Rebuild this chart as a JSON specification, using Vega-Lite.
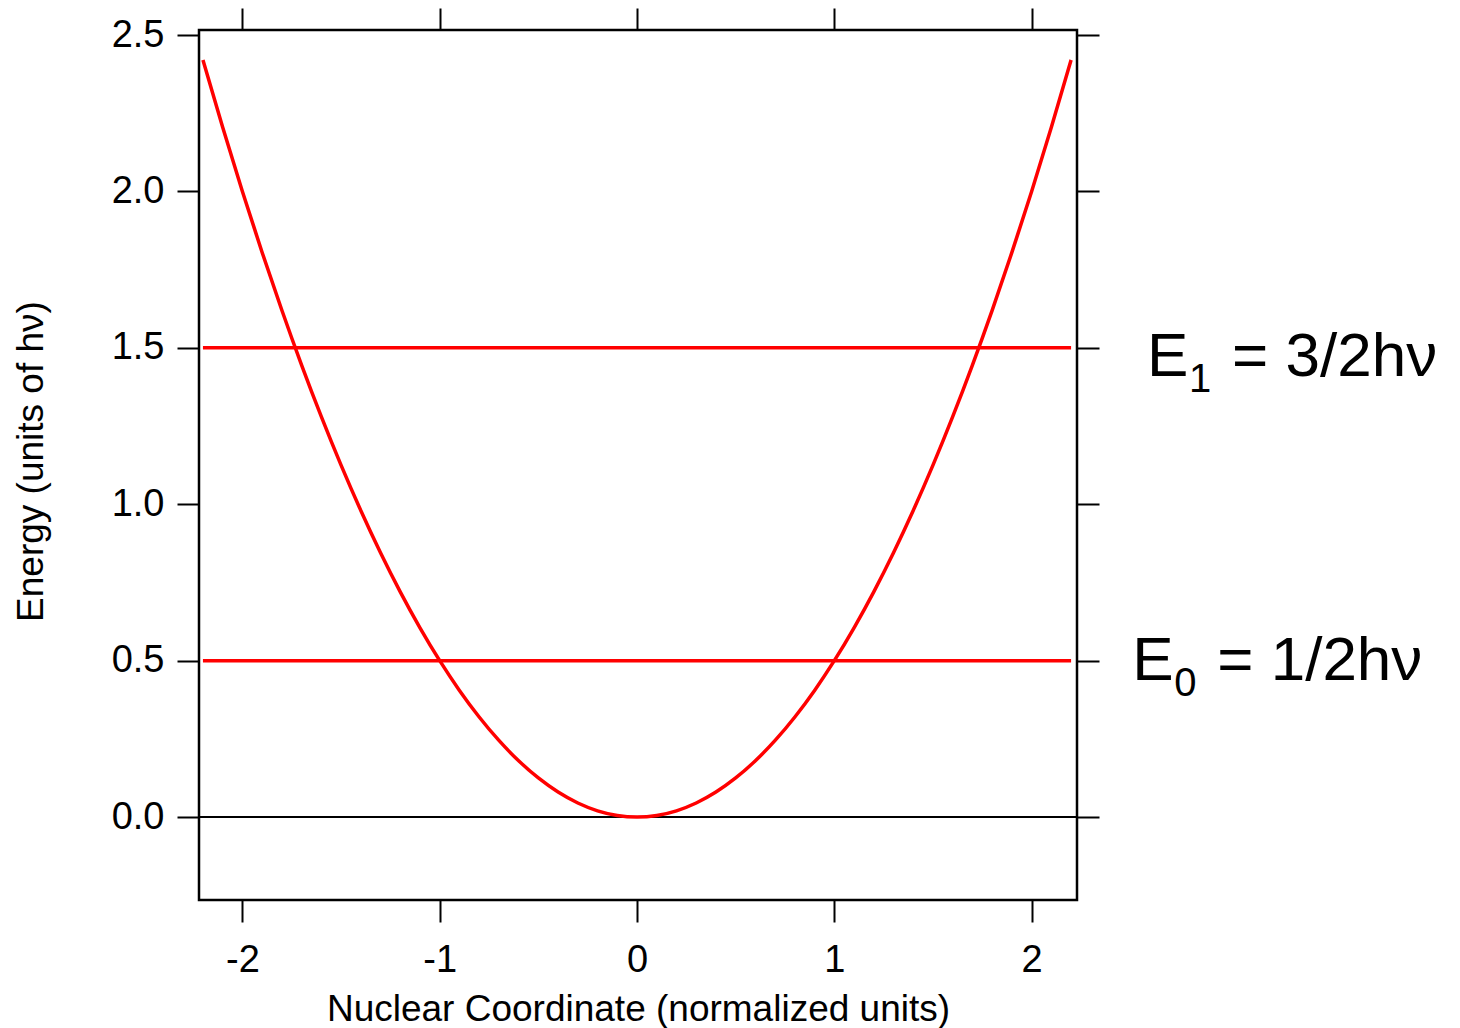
{
  "$schema": "https://vega.github.io/schema/vega-lite/v6.json",
  "width": 878,
  "height": 870,
  "autosize": "none",
  "padding": {"left": 199, "top": 30, "right": 383, "bottom": 128},
  "background": "white",
  "config": {
    "view": {"stroke": "black", "strokeWidth": 2.5},
    "axis": {
      "grid": false,
      "domain": false,
      "tickColor": "black",
      "tickWidth": 2,
      "tickSize": 22,
      "labelFont": "Liberation Sans",
      "labelFontSize": 38,
      "labelColor": "black",
      "titleFont": "Liberation Sans",
      "titleFontSize": 37,
      "titleFontWeight": "normal",
      "titleColor": "black"
    },
    "text": {"font": "Liberation Sans", "color": "black"}
  },
  "datasets": {
    "zero": [{"energy": 0}],
    "curve": [
      {"x": -2.2, "energy": 2.42}, {"x": -2.1, "energy": 2.205}, {"x": -2.0, "energy": 2.0},
      {"x": -1.9, "energy": 1.805}, {"x": -1.8, "energy": 1.62}, {"x": -1.7, "energy": 1.445},
      {"x": -1.6, "energy": 1.28}, {"x": -1.5, "energy": 1.125}, {"x": -1.4, "energy": 0.98},
      {"x": -1.3, "energy": 0.845}, {"x": -1.2, "energy": 0.72}, {"x": -1.1, "energy": 0.605},
      {"x": -1.0, "energy": 0.5}, {"x": -0.9, "energy": 0.405}, {"x": -0.8, "energy": 0.32},
      {"x": -0.7, "energy": 0.245}, {"x": -0.6, "energy": 0.18}, {"x": -0.5, "energy": 0.125},
      {"x": -0.4, "energy": 0.08}, {"x": -0.3, "energy": 0.045}, {"x": -0.2, "energy": 0.02},
      {"x": -0.1, "energy": 0.005}, {"x": 0.0, "energy": 0.0}, {"x": 0.1, "energy": 0.005},
      {"x": 0.2, "energy": 0.02}, {"x": 0.3, "energy": 0.045}, {"x": 0.4, "energy": 0.08},
      {"x": 0.5, "energy": 0.125}, {"x": 0.6, "energy": 0.18}, {"x": 0.7, "energy": 0.245},
      {"x": 0.8, "energy": 0.32}, {"x": 0.9, "energy": 0.405}, {"x": 1.0, "energy": 0.5},
      {"x": 1.1, "energy": 0.605}, {"x": 1.2, "energy": 0.72}, {"x": 1.3, "energy": 0.845},
      {"x": 1.4, "energy": 0.98}, {"x": 1.5, "energy": 1.125}, {"x": 1.6, "energy": 1.28},
      {"x": 1.7, "energy": 1.445}, {"x": 1.8, "energy": 1.62}, {"x": 1.9, "energy": 1.805},
      {"x": 2.0, "energy": 2.0}, {"x": 2.1, "energy": 2.205}, {"x": 2.2, "energy": 2.42}
    ],
    "levels": [
      {"level": "E0", "energy": 0.5, "xmin": -2.2, "xmax": 2.2},
      {"level": "E1", "energy": 1.5, "xmin": -2.2, "xmax": 2.2}
    ],
    "labels": [
      {"level": "E1", "main": "E", "sub": "1", "rest": "= 3/2hν", "lx": 2.585, "ly": 1.41},
      {"level": "E0", "main": "E", "sub": "0", "rest": "= 1/2hν", "lx": 2.51, "ly": 0.438}
    ]
  },
  "resolve": {"axis": {"x": "independent", "y": "independent"}},
  "layer": [
    {
      "data": {"name": "zero"},
      "mark": {"type": "rule", "color": "black", "strokeWidth": 2},
      "encoding": {
        "y": {"field": "energy", "type": "quantitative",
              "scale": {"domain": [-0.265, 2.516], "nice": false, "zero": false},
              "axis": null}
      }
    },
    {
      "data": {"name": "curve"},
      "mark": {"type": "line", "color": "#ff0000", "strokeWidth": 3.5, "interpolate": "monotone"},
      "encoding": {
        "x": {"field": "x", "type": "quantitative",
              "scale": {"domain": [-2.22, 2.23], "nice": false, "zero": false},
              "axis": {"orient": "bottom", "values": [-2, -1, 0, 1, 2],
                       "labelExpr": "toString(datum.value)", "labelPadding": 19,
                       "title": "Nuclear Coordinate (normalized units)",
                       "titleBaseline": "alphabetic", "titleY": 120}},
        "y": {"field": "energy", "type": "quantitative",
              "scale": {"domain": [-0.265, 2.516], "nice": false, "zero": false},
              "axis": {"orient": "left", "values": [0, 0.5, 1, 1.5, 2, 2.5],
                       "format": ".1f", "labelPadding": 13,
                       "title": "Energy (units of hν)",
                       "titleAngle": -90, "titleBaseline": "alphabetic",
                       "titleX": -157, "titleY": 431}}
      }
    },
    {
      "data": {"name": "levels"},
      "mark": {"type": "rule", "color": "#ff0000", "strokeWidth": 3.5},
      "encoding": {
        "x": {"field": "xmin", "type": "quantitative",
              "scale": {"domain": [-2.22, 2.23], "nice": false, "zero": false},
              "axis": {"orient": "top", "values": [-2, -1, 0, 1, 2], "labels": false, "title": null}},
        "x2": {"field": "xmax"},
        "y": {"field": "energy", "type": "quantitative",
              "scale": {"domain": [-0.265, 2.516], "nice": false, "zero": false},
              "axis": {"orient": "right", "values": [0, 0.5, 1, 1.5, 2, 2.5], "labels": false, "title": null}}
      }
    },
    {
      "data": {"name": "labels"},
      "mark": {"type": "text", "align": "left", "baseline": "alphabetic", "fontSize": 62},
      "encoding": {
        "x": {"field": "lx", "type": "quantitative", "axis": null},
        "y": {"field": "ly", "type": "quantitative", "axis": null},
        "text": {"field": "main"}
      }
    },
    {
      "data": {"name": "labels"},
      "mark": {"type": "text", "align": "left", "baseline": "alphabetic", "fontSize": 40, "dx": 42, "dy": 16},
      "encoding": {
        "x": {"field": "lx", "type": "quantitative", "axis": null},
        "y": {"field": "ly", "type": "quantitative", "axis": null},
        "text": {"field": "sub"}
      }
    },
    {
      "data": {"name": "labels"},
      "mark": {"type": "text", "align": "left", "baseline": "alphabetic", "fontSize": 62, "dx": 85},
      "encoding": {
        "x": {"field": "lx", "type": "quantitative", "axis": null},
        "y": {"field": "ly", "type": "quantitative", "axis": null},
        "text": {"field": "rest"}
      }
    }
  ]
}
